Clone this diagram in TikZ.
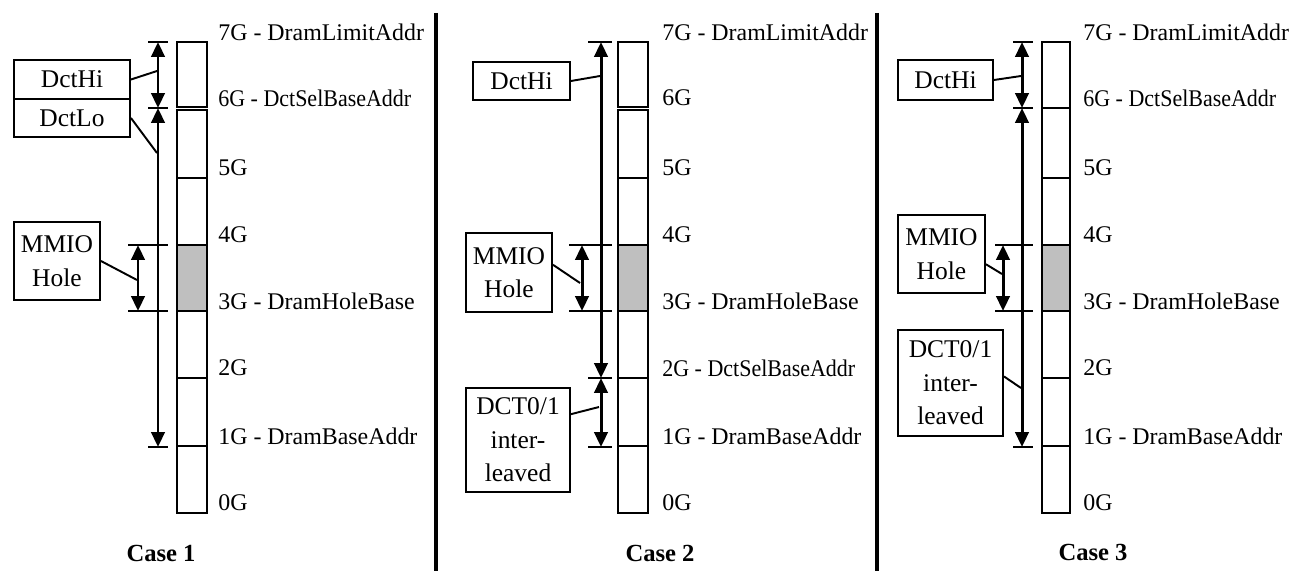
\documentclass[tikz,border=0pt]{standalone}
\usepackage{fontspec}
\usepackage{graphicx}
\setmainfont{Liberation Serif}
\usetikzlibrary{arrows.meta}

\begin{document}
\begin{tikzpicture}[x=0.02cm,y=-0.02cm,font=\fontsize{13.6}{18.5}\selectfont,
blk/.style={draw,line width=1.1pt,fill=white},
hole/.style={blk,fill=black!25},
lbl/.style={anchor=west,inner sep=0pt},
tk/.style={line width=1.1pt},
span/.style={{Triangle[length=8.5pt,width=7.6pt]}-{Triangle[length=8.5pt,width=7.6pt]},line width=1.7pt},
tag/.style={draw,line width=1.1pt,align=center,inner sep=0pt,font=\fontsize{14.5}{19}\selectfont},
lead/.style={line width=1.1pt},
sep/.style={line width=2.3pt},
caselbl/.style={font=\fontsize{14}{18.5}\selectfont\bfseries}]

\useasboundingbox (0,0) rectangle (1295,571);
\draw[sep](436,13)--(436,571);
\draw[sep](877,13)--(877,571);

% Case 1
\draw[blk](177,42)rectangle(207,107);
\foreach \ya/\yb in {110/178,178/245,311/378,378/446,446/513}
  \draw[blk](177,\ya)rectangle(207,\yb);
\draw[hole](177,245)rectangle(207,311);
\node[lbl] (c1l7) at(218,32){7G - DramLimitAddr};
\node[lbl] (c1l6) at(218,98){\scalebox{0.92}[1]{6G - DctSelBaseAddr}};
\node[lbl] (c1l5) at(218,168){5G};
\node[lbl] (c1l4) at(218,235){4G};
\node[lbl] (c1l3) at(218,301){3G - DramHoleBase};
\node[lbl] (c1l2) at(218,368){2G};
\node[lbl] (c1l1) at(218,436){1G - DramBaseAddr};
\node[lbl] (c1l0) at(218,503){0G};
\draw[tk](148,42)--(168,42);
\draw[tk](148,108)--(168,108);
\draw[tk](128,245)--(168,245);
\draw[tk](128,311)--(168,311);
\draw[tk](148,447)--(168,447);
\coordinate (a1t) at(158,42);
\coordinate (a1m) at(158,108);
\coordinate (a1b) at(158,447);
\coordinate (h1t) at(138,245);
\coordinate (h1b) at(138,311);
\draw[span](a1t)--(a1m);
\draw[span](a1m)--(a1b);
\draw[span](h1t)--(h1b);
\node[tag,minimum width=2.32cm,minimum height=0.78cm] (hi1) at(72,79.5){DctHi};
\node[tag,minimum width=2.32cm,minimum height=0.76cm] (lo1) at(72,118){DctLo};
\node[tag,minimum width=1.72cm,minimum height=1.56cm] (mm1) at(57,261){MMIO\\Hole};
\coordinate (p1) at(157,71);
\coordinate (q1) at(157,153);
\coordinate (r1) at(137,280);
\draw[lead](hi1.east)--(p1);
\draw[lead](lo1.east)--(q1);
\draw[lead](mm1.east)--(r1);
\node[caselbl] (case1) at(161,553){Case 1};

% Case 2
\draw[blk](618,42)rectangle(648,107);
\foreach \ya/\yb in {110/178,178/245,311/378,378/446,446/513}
  \draw[blk](618,\ya)rectangle(648,\yb);
\draw[hole](618,245)rectangle(648,311);
\node[lbl] (c2l7) at(662,32){7G - DramLimitAddr};
\node[lbl] (c2l6) at(662,98){6G};
\node[lbl] (c2l5) at(662,168){5G};
\node[lbl] (c2l4) at(662,235){4G};
\node[lbl] (c2l3) at(662,301){3G - DramHoleBase};
\node[lbl] (c2l2) at(662,368){\scalebox{0.92}[1]{2G - DctSelBaseAddr}};
\node[lbl] (c2l1) at(662,436){1G - DramBaseAddr};
\node[lbl] (c2l0) at(662,503){0G};
\draw[tk](588,42)--(612,42);
\draw[tk](569,245)--(612,245);
\draw[tk](569,311)--(612,311);
\draw[tk](588,378)--(612,378);
\draw[tk](588,447)--(612,447);
\coordinate (a2t) at(601,42);
\coordinate (a2m) at(601,378);
\coordinate (a2b) at(601,447);
\coordinate (h2t) at(582,245);
\coordinate (h2b) at(582,311);
\draw[span](a2t)--(a2m);
\draw[span](a2m)--(a2b);
\draw[span](h2t)--(h2b);
\node[tag,minimum width=1.94cm,minimum height=0.76cm] (hi2) at(521.5,81){DctHi};
\node[tag,minimum width=1.72cm,minimum height=1.58cm] (mm2) at(509,272.5){MMIO\\Hole};
\node[tag,minimum width=2.08cm,minimum height=2.08cm] (dc2) at(518,440){DCT0/1\\inter-\\leaved};
\coordinate (p2) at(600,76);
\coordinate (r2) at(580,283);
\coordinate (q2) at(599,407);
\draw[lead](hi2.east)--(p2);
\draw[lead](mm2.10)--(r2);
\draw[lead](dc2.26)--(q2);
\node[caselbl] (case2) at(660,553){Case 2};

% Case 3
\foreach \ya/\yb in {42/108,108/178,178/245,311/378,378/446,446/513}
  \draw[blk](1042,\ya)rectangle(1070,\yb);
\draw[hole](1042,245)rectangle(1070,311);
\node[lbl] (c3l7) at(1083,32){7G - DramLimitAddr};
\node[lbl] (c3l6) at(1083,98){\scalebox{0.92}[1]{6G - DctSelBaseAddr}};
\node[lbl] (c3l5) at(1083,168){5G};
\node[lbl] (c3l4) at(1083,235){4G};
\node[lbl] (c3l3) at(1083,301){3G - DramHoleBase};
\node[lbl] (c3l2) at(1083,368){2G};
\node[lbl] (c3l1) at(1083,436){1G - DramBaseAddr};
\node[lbl] (c3l0) at(1083,503){0G};
\draw[tk](1013,42)--(1033,42);
\draw[tk](1013,108)--(1033,108);
\draw[tk](995,245)--(1033,245);
\draw[tk](995,311)--(1033,311);
\draw[tk](1013,447)--(1033,447);
\coordinate (a3t) at(1022,42);
\coordinate (a3m) at(1022,108);
\coordinate (a3b) at(1022,447);
\coordinate (h3t) at(1003,245);
\coordinate (h3b) at(1003,311);
\draw[span](a3t)--(a3m);
\draw[span](a3m)--(a3b);
\draw[span](h3t)--(h3b);
\node[tag,minimum width=1.9cm,minimum height=0.8cm] (hi3) at(945.5,80){DctHi};
\node[tag,minimum width=1.74cm,minimum height=1.56cm] (mm3) at(941.5,254){MMIO\\Hole};
\node[tag,minimum width=2.1cm,minimum height=2.12cm] (dc3) at(950.5,383){DCT0/1\\inter-\\leaved};
\coordinate (p3) at(1021,76);
\coordinate (r3) at(1002,274);
\coordinate (q3) at(1021,388);
\draw[lead](hi3.east)--(p3);
\draw[lead](mm3.-13)--(r3);
\draw[lead](dc3.7)--(q3);
\node[caselbl] (case3) at(1093,552){Case 3};
\end{tikzpicture}
\end{document}
